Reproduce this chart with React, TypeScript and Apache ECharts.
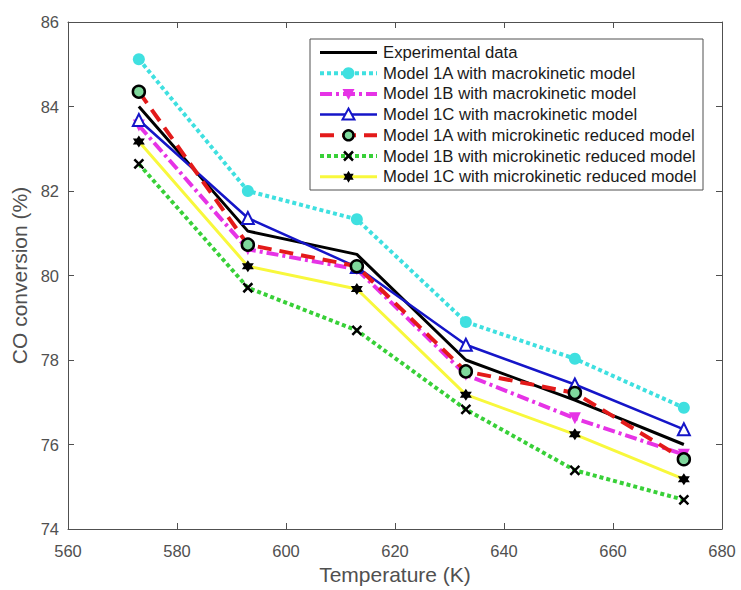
import React, { useEffect, useRef } from "react";
import * as echarts from "echarts";

// ---- data ----
const temps = [573, 593, 613, 633, 653, 673];
const xTicks = [560, 580, 600, 620, 640, 660, 680];
const yTicks = [74, 76, 78, 80, 82, 84, 86];
const seriesNames = [
  "Experimental data",
  "Model 1A with macrokinetic model",
  "Model 1B with macrokinetic model",
  "Model 1C with macrokinetic model",
  "Model 1A with microkinetic reduced model",
  "Model 1B with microkinetic reduced model",
  "Model 1C with microkinetic reduced model",
];
const expData = [84.0, 81.05, 80.5, 78.0, 77.05, 76.0];
const m1AMacro = [85.12, 82.0, 81.33, 78.9, 78.03, 76.87];
const m1BMacro = [83.55, 80.62, 80.15, 77.65, 76.62, 75.76];
const m1CMacro = [83.68, 81.36, 80.2, 78.36, 77.42, 76.36];
const m1AMicro = [84.35, 80.73, 80.22, 77.73, 77.22, 75.65];
const m1BMicro = [82.64, 79.71, 78.7, 76.83, 75.39, 74.69];
const m1CMicro = [83.17, 80.22, 79.68, 77.18, 76.24, 75.18];
const seriesValues = [expData, m1AMacro, m1BMacro, m1CMacro, m1AMicro, m1BMicro, m1CMicro];

// ---- styles ----
const FONT = "'Liberation Sans', Arial, Helvetica, sans-serif";
const AXIS_COLOR = "#505050";
const STAR_PATH =
  "path://M10 0L12.89 5L18.66 5L15.77 10L18.66 15L12.89 15L10 20L7.11 15L1.34 15L4.23 10L1.34 5L7.11 5Z";
const X_PATH = "path://M0 0L10 10M10 0L0 10";

type Sty = {
  color: string;
  width: number;
  dash: number[] | "solid";
  marker: string;
};
const styles: Sty[] = [
  { color: "#000000", width: 3, dash: "solid", marker: "none" },
  { color: "#3fe0e0", width: 4, dash: [4, 3], marker: "cyan" },
  { color: "#e633e6", width: 4, dash: [12, 4, 3, 4], marker: "triDown" },
  { color: "#1515c8", width: 2.5, dash: "solid", marker: "triUp" },
  { color: "#e31a1a", width: 4, dash: [14, 8], marker: "greenCircle" },
  { color: "#38d038", width: 4, dash: [4, 3], marker: "x" },
  { color: "#f8f83c", width: 3, dash: "solid", marker: "star" },
];

function seriesSymbol(s: Sty) {
  switch (s.marker) {
    case "cyan":
      return { symbol: "circle", symbolSize: 12, itemStyle: { color: "#3fe0e0" } };
    case "triDown":
      return { symbol: "triangle", symbolRotate: 180, symbolSize: 12, itemStyle: { color: "#e633e6" } };
    case "triUp":
      return {
        symbol: "triangle",
        symbolSize: 12,
        itemStyle: { color: "#ffffff", borderColor: "#1515c8", borderWidth: 2 },
      };
    case "greenCircle":
      return {
        symbol: "circle",
        symbolSize: 12,
        itemStyle: { color: "#7fd89c", borderColor: "#000000", borderWidth: 2.5 },
      };
    case "x":
      return {
        symbol: X_PATH,
        symbolSize: 9,
        itemStyle: { color: "none", borderColor: "#000000", borderWidth: 2.5 },
      };
    case "star":
      return { symbol: STAR_PATH, symbolSize: 12, itemStyle: { color: "#000000" } };
    default:
      return { symbol: "none" };
  }
}

function legendMarker(s: Sty, cx: number, cy: number): any[] {
  switch (s.marker) {
    case "cyan":
      return [{ type: "circle", shape: { cx, cy, r: 6 }, style: { fill: "#3fe0e0" } }];
    case "triDown":
      return [
        {
          type: "polygon",
          shape: { points: [[cx - 6, cy - 5], [cx + 6, cy - 5], [cx, cy + 6]] },
          style: { fill: "#e633e6" },
        },
      ];
    case "triUp":
      return [
        {
          type: "polygon",
          shape: { points: [[cx, cy - 6], [cx + 6, cy + 5], [cx - 6, cy + 5]] },
          style: { fill: "#ffffff", stroke: "#1515c8", lineWidth: 2 },
        },
      ];
    case "greenCircle":
      return [
        {
          type: "circle",
          shape: { cx, cy, r: 5 },
          style: { fill: "#7fd89c", stroke: "#000000", lineWidth: 2.5 },
        },
      ];
    case "x":
      return [
        { type: "line", shape: { x1: cx - 4.5, y1: cy - 4.5, x2: cx + 4.5, y2: cy + 4.5 }, style: { stroke: "#000", lineWidth: 2.5 } },
        { type: "line", shape: { x1: cx + 4.5, y1: cy - 4.5, x2: cx - 4.5, y2: cy + 4.5 }, style: { stroke: "#000", lineWidth: 2.5 } },
      ];
    case "star": {
      const pts: number[][] = [];
      for (let k = 0; k < 12; k++) {
        const ang = (-90 + k * 30) * (Math.PI / 180);
        const r = k % 2 === 0 ? 6 : 3.46;
        pts.push([cx + r * Math.cos(ang), cy + r * Math.sin(ang)]);
      }
      return [{ type: "polygon", shape: { points: pts }, style: { fill: "#000000" } }];
    }
    default:
      return [];
  }
}

function buildLegend(): any {
  const boxX = 310,
    boxY = 39,
    boxW = 393,
    boxH = 151;
  const rowY0 = 52.5,
    rowStep = 20.7;
  const children: any[] = [
    {
      type: "rect",
      shape: { x: boxX, y: boxY, width: boxW, height: boxH },
      style: { fill: "#ffffff", stroke: AXIS_COLOR, lineWidth: 1 },
    },
  ];
  seriesNames.forEach((name, i) => {
    const s = styles[i];
    const y = rowY0 + i * rowStep;
    children.push({
      type: "line",
      shape: { x1: 320, y1: y, x2: 377, y2: y },
      style: {
        stroke: s.color,
        lineWidth: s.width,
        lineDash: s.dash === "solid" ? null : s.dash,
        lineCap: "butt",
      },
    });
    legendMarker(s, 348.5, y).forEach((m) => children.push(m));
    children.push({
      type: "text",
      x: 383,
      y,
      style: {
        text: name,
        fill: "#1a1a1a",
        font: `16.7px ${FONT}`,
        textVerticalAlign: "middle",
        verticalAlign: "middle",
      },
    });
  });
  return { type: "group", z: 100, children };
}

export default function App() {
  const ref = useRef<HTMLDivElement | null>(null);
  useEffect(() => {
    if (!ref.current) return;
    const chart = echarts.init(ref.current, null, { renderer: "svg" });
    const axisCommon = {
      axisLine: { show: true, lineStyle: { color: AXIS_COLOR, width: 1 } },
      axisTick: { show: true, inside: true, length: 6, lineStyle: { color: AXIS_COLOR } },
      splitLine: { show: false },
    };
    const option: any = {
      animation: false,
      backgroundColor: "#ffffff",
      grid: { left: 68, right: 19, top: 22, bottom: 58, containLabel: false },
      xAxis: [
        {
          type: "value",
          min: xTicks[0],
          max: xTicks[xTicks.length - 1],
          interval: 20,
          position: "bottom",
          ...axisCommon,
          axisLabel: { color: AXIS_COLOR, fontSize: 16.5, fontFamily: FONT, margin: 13 },
          name: "Temperature (K)",
          nameLocation: "middle",
          nameGap: 35,
          nameTextStyle: { color: AXIS_COLOR, fontSize: 21, fontFamily: FONT },
        },
        {
          type: "value",
          min: xTicks[0],
          max: xTicks[xTicks.length - 1],
          interval: 20,
          position: "top",
          ...axisCommon,
          axisLabel: { show: false },
        },
      ],
      yAxis: [
        {
          type: "value",
          min: yTicks[0],
          max: yTicks[yTicks.length - 1],
          interval: 2,
          position: "left",
          ...axisCommon,
          axisLabel: { color: AXIS_COLOR, fontSize: 16.5, fontFamily: FONT, margin: 9 },
          name: "CO conversion (%)",
          nameLocation: "middle",
          nameGap: 36,
          nameTextStyle: { color: AXIS_COLOR, fontSize: 21, fontFamily: FONT },
        },
        {
          type: "value",
          min: yTicks[0],
          max: yTicks[yTicks.length - 1],
          interval: 2,
          position: "right",
          ...axisCommon,
          axisLabel: { show: false },
        },
      ],
      series: seriesNames.map((name, i) => {
        const s = styles[i];
        return {
          name,
          type: "line",
          xAxisIndex: 0,
          yAxisIndex: 0,
          data: temps.map((t, k) => [t, seriesValues[i][k]]),
          lineStyle: { color: s.color, width: s.width, type: s.dash, cap: "butt" },
          showSymbol: s.marker !== "none",
          z: 2 + i,
          ...seriesSymbol(s),
        };
      }),
      graphic: [buildLegend()],
    };
    chart.setOption(option);
    return () => chart.dispose();
  }, []);
  return (
    <div
      ref={ref}
      style={{ position: "fixed", left: 0, top: 0, width: 741, height: 590, background: "#fff" }}
    />
  );
}
